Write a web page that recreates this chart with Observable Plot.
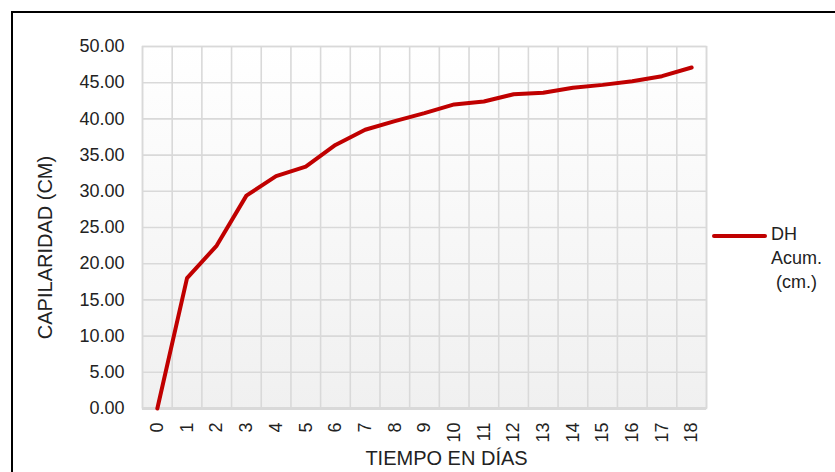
<!DOCTYPE html>
<html><head><meta charset="utf-8">
<script src="https://cdn.jsdelivr.net/npm/d3@7"></script>
<script src="https://cdn.jsdelivr.net/npm/@observablehq/plot@0.6"></script>
<style>
body{margin:0;background:#fff;overflow:hidden;font-family:"Liberation Sans",Arial,sans-serif;}
#wrap{position:relative;width:835px;height:472px;overflow:hidden;background:#fff;}
#chart{position:absolute;left:0;top:0;}
#border{position:absolute;left:11px;top:11px;width:900px;height:600px;border:2px solid #000;box-sizing:border-box;pointer-events:none;}
#legend{position:absolute;left:712px;top:222px;font-size:18px;line-height:24px;color:#222;}
#legend .swatch{position:absolute;left:0;top:12px;width:55px;height:4px;border-radius:2px;background:#C00000;}
#legend .txt{position:absolute;left:59px;top:0;white-space:pre;}
</style></head>
<body>
<div id="wrap"><div id="chart"></div><div id="legend"></div><div id="border"></div></div>
<script>
const days = [0,1,2,3,4,5,6,7,8,9,10,11,12,13,14,15,16,17,18];
const dhAcum = [0,18.0,22.5,29.4,32.1,33.4,36.4,38.5,39.7,40.8,42.0,42.4,43.4,43.6,44.3,44.7,45.2,45.9,47.1];
const yTicks = [0,5,10,15,20,25,30,35,40,45,50];
const seriesLines = ["DH", "Acum.", " (cm.)"];
const xTitle = "TIEMPO EN DÍAS";
const yTitle = "CAPILARIDAD (CM)";

const table = days.map((d, i) => ({day: d, value: dhAcum[i]}));
const boundaries = days.map(d => d - 0.5).concat([days[days.length - 1] + 0.5]);

const chart = Plot.plot({
  width: 835,
  height: 472,
  marginLeft: 142,
  marginRight: 129,
  marginTop: 46,
  marginBottom: 64,
  style: {fontFamily: '"Liberation Sans", Arial, sans-serif', fontSize: "18px", color: "#222", background: "transparent"},
  x: {domain: [-0.5, 18.5]},
  y: {domain: [0, 50]},
  marks: [
    Plot.frame({fill: "url(#bgGrad)", stroke: "#d9d9d9", strokeWidth: 1.5}),
    Plot.ruleY(yTicks, {stroke: "#d9d9d9", strokeWidth: 1.6}),
    Plot.ruleX(boundaries, {stroke: "#d9d9d9", strokeWidth: 1.6}),
    Plot.ruleY([0], {stroke: "#d9d9d9", strokeWidth: 3}),
    Plot.axisY(yTicks, {tickFormat: d3.format(".2f"), tickSize: 0, tickPadding: 18, label: null}),
    Plot.axisX(days, {tickRotate: -90, tickSize: 0, tickPadding: 14, label: null}),
    Plot.line(table, {x: "day", y: "value", stroke: "#C00000", strokeWidth: 4, curve: "linear", strokeLinecap: "round", strokeLinejoin: "round"}),
    Plot.text([yTitle], {frameAnchor: "left", dx: -97, dy: 20, rotate: -90, fontSize: 20, textAnchor: "middle", lineAnchor: "middle"}),
    Plot.text([xTitle], {frameAnchor: "bottom", dx: 22, dy: 50, fontSize: 20, textAnchor: "middle", lineAnchor: "middle"})
  ]
});

const ns = "http://www.w3.org/2000/svg";
const defs = document.createElementNS(ns, "defs");
defs.innerHTML = '<linearGradient id="bgGrad" x1="0" y1="0" x2="0" y2="1"><stop offset="0" stop-color="#ffffff"/><stop offset="1" stop-color="#f0f0f0"/></linearGradient>';
chart.insertBefore(defs, chart.firstChild);
document.getElementById("chart").appendChild(chart);

const legend = document.getElementById("legend");
legend.innerHTML = '<div class="swatch"></div><div class="txt"></div>';
legend.querySelector(".txt").textContent = seriesLines.join("\n");
</script>
</body></html>
